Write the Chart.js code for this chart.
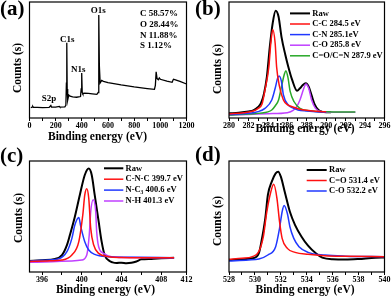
<!DOCTYPE html>
<html>
<head>
<meta charset="utf-8">
<script src="https://cdn.jsdelivr.net/npm/chart.js@4.4.0/dist/chart.umd.min.js"></script>
<style>
  html, body { margin: 0; padding: 0; background: #fff; }
  #wrap { position: relative; width: 392px; height: 298px; overflow: hidden; }
  #wrap canvas { position: absolute; left: 0; top: 0; }
</style>
</head>
<body>
<div id="wrap">
  <canvas id="pa" width="392" height="298"></canvas>
  <canvas id="pb" width="392" height="298"></canvas>
  <canvas id="pc" width="392" height="298"></canvas>
  <canvas id="pd" width="392" height="298"></canvas>
</div>
<script>
// ---- (a) survey ----
const aEnergy = [10, 20, 25, 30, 60, 100, 150, 163, 168, 200, 228, 233, 270, 278, 282, 285, 288, 292, 300, 310, 330, 360, 390, 395, 399, 403, 408, 420, 450, 480, 515, 525, 528, 531, 534, 540, 552, 565, 600, 700, 800, 900, 955, 962, 968, 975, 985, 992, 1000, 1050, 1090, 1100, 1110, 1150, 1200];
const aCounts = [9.0, 9.3, 10.0, 9.2, 9.1, 9.0, 9.2, 10.8, 9.4, 9.3, 10.0, 9.4, 9.6, 11, 30, 64.9, 25, 15.5, 19.8, 18.8, 18.2, 17.9, 18.5, 25, 38.8, 22, 20.7, 21.5, 21.2, 20.8, 20.4, 22, 50, 88.8, 45, 30.2, 32.4, 31.6, 30.5, 28.5, 26.8, 25.4, 24.7, 28, 39.9, 34, 33, 34.5, 33.4, 31.8, 30.8, 33.4, 33, 31.5, 29.3];
const aTicks = [0, 100, 200, 300, 400, 500, 600, 700, 800, 900, 1000, 1100, 1200];
const aTickLabels = ['0', '', '200', '', '400', '', '600', '', '800', '', '1000', '', '1200'];
const aPeakLabels = ['O1s', 'C1s', 'N1s', 'S2p'];
const aComposition = ['C 58.57%', 'O 28.44%', 'N 11.88%', 'S 1.12%'];

// ---- (b) C1s ----
const bRawE = [280, 281, 282, 282.5, 283, 283.3, 283.6, 283.9, 284.2, 284.5, 284.8, 285.1, 285.4, 285.8, 286.1, 286.5, 287.0, 287.3, 287.6, 287.9, 288.2, 288.5, 288.8, 289.2, 289.6, 290, 290.5];
const bRawY = [4.0, 4.6, 5.6, 6.5, 9.5, 13, 21, 35.6, 61.5, 82, 92.5, 87.3, 70, 54.3, 44.2, 32.8, 23.5, 25.6, 28.5, 29.9, 27, 19.5, 12, 6.9, 5.3, 5.0, 5.0];
const bCCE = [280, 281.5, 282.5, 283, 283.4, 283.7, 284.1, 284.3, 284.5, 284.75, 284.9, 285.2, 285.6, 286.0, 286.5, 287.2, 288, 289, 290];
const bCCY = [3.5, 4.5, 6.0, 8.3, 12, 24, 44, 64.4, 76.4, 64.4, 44, 27, 15.5, 11.5, 9.7, 7.8, 6.6, 5.8, 5.3];
const bCNE = [280, 282, 283, 283.7, 284.4, 284.75, 285.0, 285.15, 285.4, 285.6, 286.1, 286.6, 287.1, 288, 289.2, 290];
const bCNY = [3.0, 4.0, 5.5, 8.3, 15.5, 25.6, 34.2, 36.2, 31.3, 19.8, 11.2, 8.5, 6.9, 6.0, 5.2, 5.0];
const bCOE = [280, 282, 284, 284.4, 284.8, 285.1, 285.4, 285.7, 285.85, 286.05, 286.3, 286.7, 287.3, 288.5, 290, 291.5, 293];
const bCOY = [2.6, 3.5, 5.3, 6.9, 11, 15.5, 27, 37.9, 40.8, 35.6, 22.7, 14, 8.3, 6.0, 5.4, 5.2, 5.2];
const bCONE = [280, 282, 284, 286, 286.6, 287.0, 287.3, 287.7, 287.9, 288.2, 288.5, 288.9, 289.6, 290.5, 292, 293];
const bCONY = [2.6, 3.1, 3.7, 4.6, 6.5, 10.3, 15.5, 25.6, 29.3, 25.6, 15.5, 8.3, 5.4, 4.9, 4.9, 4.9];
const bTicks = [280, 281, 282, 283, 284, 285, 286, 287, 288, 289, 290, 291, 292, 293, 294, 295, 296];
const bTickLabels = ['280', '', '282', '', '284', '', '286', '', '288', '', '290', '', '292', '', '294', '', '296'];
const bLegend = ['Raw', 'C-C 284.5 eV', 'C-N 285.1eV', 'C-O 285.8 eV', 'C=O/C=N 287.9 eV'];

// ---- (c) N1s ----
const cRawE = [394.7, 396, 397.3, 398, 398.5, 398.8, 399.3, 399.8, 400.3, 400.7, 401, 401.3, 401.7, 402, 402.3, 402.8, 403.1, 403.5, 404, 404.5, 405, 405.5, 406, 407, 408, 409.3];
const cRawY = [9.9, 10.6, 11.7, 15.3, 24.3, 33.3, 49.8, 69.4, 87.4, 93.2, 87.4, 69.4, 45.3, 27.3, 15.3, 9.9, 8.7, 8.1, 8.4, 7.9, 8.3, 9.5, 11.4, 11.8, 12.3, 12.9];
const cCNCE = [394.7, 396.5, 398, 399, 399.7, 400.1, 400.3, 400.5, 400.7, 400.9, 401.2, 401.7, 402.7, 404, 406, 409.3];
const cCNCY = [9.5, 10.0, 10.8, 15.3, 27.3, 51.4, 69.4, 75, 66.4, 39.3, 24.3, 16.8, 13.8, 13.0, 12.8, 12.9];
const cNC3E = [394.7, 396, 397.6, 398.5, 399, 399.3, 399.7, 399.9, 400.3, 400.7, 401.3, 402.7, 405, 409.3];
const cNC3Y = [9.9, 10.5, 11.7, 18.3, 30.3, 42.3, 49, 40.8, 27.3, 19.8, 15.9, 13.8, 13.2, 12.9];
const cNHE = [394.7, 397, 399, 400, 400.5, 400.75, 400.9, 401.15, 401.4, 401.5, 401.7, 402.2, 403, 405, 409.3];
const cNHY = [8.7, 9.3, 10.0, 10.8, 15.3, 33.3, 54.3, 65, 54.3, 36.3, 22.8, 16.8, 13.8, 13.0, 12.9];
const cTicks = [396, 398, 400, 402, 404, 406, 408, 410.55];
const cTickLabels = ['396', '', '400', '', '404', '', '408', '412'];
const cLegend = ['Raw', 'C-N-C 399.7 eV', 'N-C_3 400.6 eV', 'N-H 401.3 eV'];

// ---- (d) O1s ----
const dRawE = [528, 529, 529.8, 530.3, 530.5, 530.8, 531.0, 531.3, 531.6, 531.8, 532.0, 532.3, 532.7, 533.1, 533.6, 534.1, 534.7, 535.2, 536, 537, 538, 539.3, 540];
const dRawY = [10.8, 11.5, 12.3, 16.8, 27.3, 48.4, 69.4, 81.4, 88.9, 90.4, 85.9, 72.4, 54.3, 42.3, 31.8, 23.7, 16.8, 12.9, 11.4, 11.2, 11.7, 12.9, 13.0];
const dCOE = [528, 529, 529.8, 530.3, 530.65, 530.9, 531.2, 531.45, 531.7, 531.9, 532.1, 532.5, 533.1, 534.1, 535.4, 537, 540];
const dCOY = [11.4, 12.3, 13.8, 18.3, 31.8, 52.9, 70.9, 79, 66.4, 45.3, 30.3, 21.3, 17.7, 15.9, 14.7, 14.2, 13.8];
const dCO2E = [528, 529.5, 530.3, 531, 531.6, 531.9, 532.1, 532.25, 532.5, 532.7, 533.0, 533.4, 534.1, 535.4, 537, 540];
const dCO2Y = [9.9, 10.8, 11.7, 15.3, 22.8, 39.3, 54.3, 60, 52.9, 40.8, 30.3, 22.8, 17.7, 15.3, 14.3, 13.8];
const dTicks = [528, 529, 530, 531, 532, 533, 534, 535, 536, 537, 538, 539, 540];
const dTickLabels = ['528', '', '530', '', '532', '', '534', '', '536', '', '538', '', '540'];
const dLegend = ['Raw', 'C=O 531.4 eV', 'C-O 532.2 eV'];

const xTitle = 'Binding energy (eV)';
const yTitle = 'Counts (s)';

const BLACK = '#000000', RED = '#ff1010', BLUE = '#2038ff', PURPLE = '#c040ff', GREEN = '#28a828';
const FONT = '"Liberation Serif", "Times New Roman", serif';

function pts(xs, ys) {
    return xs.map((x, i) => ({ x: x, y: ys[i] }));
}

function line(xs, ys, color, width, smooth) {
    return {
        data: pts(xs, ys),
        borderColor: color,
        borderWidth: width,
        pointRadius: 0,
        fill: false,
        tension: smooth ? 0.4 : 0,
        cubicInterpolationMode: smooth ? 'monotone' : 'default'
    };
}

// draw a label, "_3" becomes a subscript 3
function drawRich(ctx, text, x, y, size) {
    const parts = text.split(/_(\d)/);
    for (let i = 0; i < parts.length; i++) {
        if (i % 2 === 1) {
            ctx.font = 'bold ' + (size * 0.65) + 'px ' + FONT;
            ctx.fillText(parts[i], x, y + size * 0.3);
        } else {
            ctx.font = 'bold ' + size + 'px ' + FONT;
            ctx.fillText(parts[i], x, y);
        }
        x += ctx.measureText(parts[i]).width;
    }
}

const panelText = {
    id: 'panelText',
    afterDraw(chart, args, o) {
        const ctx = chart.ctx, a = chart.chartArea;
        ctx.save();
        ctx.strokeStyle = BLACK;
        ctx.lineWidth = 1.2;
        ctx.strokeRect(a.left, a.top, a.right - a.left, a.bottom - a.top);

        ctx.fillStyle = BLACK;
        ctx.textBaseline = 'middle';
        ctx.textAlign = 'left';
        ctx.font = 'bold 21px ' + FONT;
        ctx.fillText(o.letter, o.letterPos[0], o.letterPos[1]);

        ctx.font = 'bold 11.5px ' + FONT;
        ctx.textAlign = 'center';
        ctx.fillText(xTitle, o.xTitlePos[0], o.xTitlePos[1]);
        ctx.save();
        ctx.translate(o.yTitlePos[0], o.yTitlePos[1]);
        ctx.rotate(-Math.PI / 2);
        ctx.fillText(yTitle, 0, 0);
        ctx.restore();

        if (o.legend) {
            const L = o.legend;
            ctx.textAlign = 'left';
            L.labels.forEach((lab, i) => {
                const y = L.y0 + i * L.dy;
                ctx.strokeStyle = L.colors[i];
                ctx.lineWidth = i === 0 ? 2 : 1.5;
                ctx.beginPath();
                ctx.moveTo(L.x0, y);
                ctx.lineTo(L.x1, y);
                ctx.stroke();
                ctx.fillStyle = BLACK;
                drawRich(ctx, lab, L.tx, y, 8.5);
            });
        }
        if (o.notes) {
            o.notes.forEach(n => {
                ctx.textAlign = n.align;
                ctx.font = 'bold 9px ' + FONT;
                ctx.fillText(n.text, n.x, n.y);
            });
        }
        ctx.restore();
    }
};

function makePanel(id, opt) {
    return new Chart(document.getElementById(id), {
        type: 'line',
        data: { datasets: opt.datasets },
        options: {
            responsive: false,
            animation: false,
            events: [],
            layout: { padding: opt.padding },
            plugins: {
                legend: { display: false },
                tooltip: { enabled: false },
                panelText: opt.text
            },
            scales: {
                x: {
                    type: 'linear',
                    min: opt.xmin,
                    max: opt.xmax,
                    afterFit: s => { s.height = 20; },
                    afterBuildTicks: s => { s.ticks = opt.ticks.map(v => ({ value: v })); },
                    border: { display: false },
                    grid: { drawOnChartArea: false, drawTicks: true, tickLength: 3, color: BLACK, lineWidth: 1 },
                    ticks: {
                        autoSkip: false,
                        maxRotation: 0,
                        padding: 0,
                        color: BLACK,
                        font: { family: FONT, size: 8, weight: 'bold' },
                        callback: (v, i) => opt.tickLabels[i]
                    }
                },
                y: { display: false, min: 0, max: 100 }
            }
        },
        plugins: [panelText]
    });
}

makePanel('pa', {
    xmin: 0, xmax: 1200, ticks: aTicks, tickLabels: aTickLabels,
    padding: { left: 29.5, top: 2, right: 205.5, bottom: 160 },
    datasets: [line(aEnergy, aCounts, BLACK, 1.3, false)],
    text: {
        letter: '(a)', letterPos: [0, 10], xTitlePos: [97.5, 137.5], yTitlePos: [18, 68],
        notes: [
            { text: aPeakLabels[0], x: 98.3, y: 11, align: 'center' },
            { text: aPeakLabels[1], x: 67.3, y: 39.3, align: 'center' },
            { text: aPeakLabels[2], x: 78.3, y: 69.3, align: 'center' },
            { text: aPeakLabels[3], x: 49, y: 98.7, align: 'center' },
            { text: aComposition[0], x: 140, y: 14, align: 'left' },
            { text: aComposition[1], x: 140, y: 24.6, align: 'left' },
            { text: aComposition[2], x: 140, y: 35.2, align: 'left' },
            { text: aComposition[3], x: 140, y: 45.8, align: 'left' }
        ]
    }
});

makePanel('pb', {
    xmin: 280, xmax: 296, ticks: bTicks, tickLabels: bTickLabels,
    padding: { left: 229, top: 2, right: 7.5, bottom: 160 },
    datasets: [
        line(bCCE, bCCY, RED, 1.5, true),
        line(bCNE, bCNY, BLUE, 1.5, true),
        line(bCOE, bCOY, GREEN, 1.5, true),
        line(bCONE, bCONY, PURPLE, 1.5, true),
        line(bRawE, bRawY, BLACK, 2, true)
    ],
    text: {
        letter: '(b)', letterPos: [195, 10], xTitlePos: [305, 129.5], yTitlePos: [218.3, 69],
        legend: { labels: bLegend, colors: [BLACK, RED, BLUE, PURPLE, GREEN], x0: 290, x1: 310, tx: 312.3, y0: 13.4, dy: 10.6 }
    }
});

makePanel('pc', {
    xmin: 394.73, xmax: 410.55, ticks: cTicks, tickLabels: cTickLabels,
    padding: { left: 29.5, top: 161, right: 205.5, bottom: 6 },
    datasets: [
        line(cCNCE, cCNCY, RED, 1.5, true),
        line(cNC3E, cNC3Y, BLUE, 1.5, true),
        line(cNHE, cNHY, PURPLE, 1.5, true),
        line(cRawE, cRawY, BLACK, 2, true)
    ],
    text: {
        letter: '(c)', letterPos: [0, 156.5], xTitlePos: [105.5, 290.5], yTitlePos: [19.3, 218],
        legend: { labels: cLegend, colors: [BLACK, RED, BLUE, PURPLE], x0: 104, x1: 123.3, tx: 125.5, y0: 168.3, dy: 10.9 }
    }
});

makePanel('pd', {
    xmin: 528, xmax: 540, ticks: dTicks, tickLabels: dTickLabels,
    padding: { left: 229, top: 161, right: 7.5, bottom: 6 },
    datasets: [
        line(dCOE, dCOY, RED, 1.5, true),
        line(dCO2E, dCO2Y, BLUE, 1.5, true),
        line(dRawE, dRawY, BLACK, 2, true)
    ],
    text: {
        letter: '(d)', letterPos: [195, 155.5], xTitlePos: [305, 290], yTitlePos: [217.7, 221],
        legend: { labels: dLegend, colors: [BLACK, RED, BLUE], x0: 306.7, x1: 326.7, tx: 329, y0: 170, dy: 10.5 }
    }
});
</script>
</body>
</html>
